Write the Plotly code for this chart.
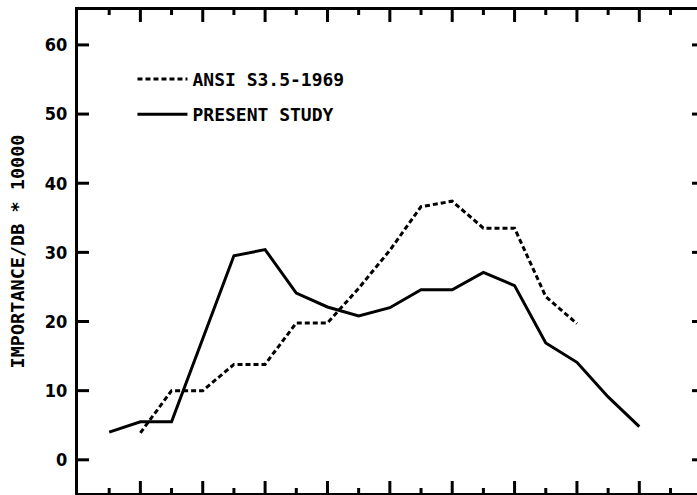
import plotly.graph_objects as go

# Band index (one-third-octave band positions along the x axis)
band_present = list(range(1, 19))
present_study = [4.0, 5.5, 5.5, 17.6, 29.5, 30.4, 24.1, 22.1, 20.8, 22.0,
                 24.6, 24.6, 27.1, 25.2, 16.9, 14.1, 9.1, 4.8]

band_ansi = list(range(2, 17))
ansi = [3.9, 10.0, 10.0, 13.8, 13.8, 19.8, 19.8, 24.8, 30.3, 36.6,
        37.4, 33.5, 33.5, 23.6, 19.7]

y_ticks = [0, 10, 20, 30, 40, 50, 60]
y_tick_text = ["0", "10", "20", "30", "40", "50", "60"]
x_major = [2, 4, 6, 8, 10, 12, 14, 16, 18]
x_minor = [1, 3, 5, 7, 9, 11, 13, 15, 17, 19]

INK = "#000000"
MONO = "DejaVu Sans Mono"

W, H = 697, 495
M_L, M_R, M_T, M_B = 78, 0, 10, 2
PW, PH = W - M_L - M_R, H - M_T - M_B

yr = [-4.8, 65.05]
xr = [0, 19.85]
px_x = (xr[1] - xr[0]) / PW   # data units per pixel (x)
px_y = (yr[1] - yr[0]) / PH   # data units per pixel (y)

fig = go.Figure()
fig.add_trace(go.Scatter(
    x=band_ansi, y=ansi, mode="lines", name="ANSI S3.5-1969",
    legendgroup="a",
    line=dict(color=INK, width=3, dash="5px,3px"),
))
fig.add_trace(go.Scatter(
    x=band_present, y=present_study, mode="lines", name="PRESENT STUDY",
    legendgroup="b",
    line=dict(color=INK, width=3),
))

# Frame tick marks as a decoration trace built from the tick lists
tx, ty = [], []
for yv in y_ticks:                       # left ticks, pointing inward
    tx += [xr[0], xr[0] + 11 * px_x, None]
    ty += [yv, yv, None]
    tx += [xr[1], xr[1] - 5 * px_x, None]  # right ticks
    ty += [yv, yv, None]
for xv in x_major:                       # top & bottom major ticks
    tx += [xv, xv, None, xv, xv, None]
    ty += [yr[1], yr[1] - 12 * px_y, None, yr[0], yr[0] + 12 * px_y, None]
for xv in x_minor:                       # top & bottom minor ticks
    tx += [xv, xv, None, xv, xv, None]
    ty += [yr[1], yr[1] - 5 * px_y, None, yr[0], yr[0] + 5 * px_y, None]

fig.add_trace(go.Scatter(
    x=tx, y=ty, mode="lines", showlegend=False, hoverinfo="skip",
    line=dict(color=INK, width=3), cliponaxis=False,
))

fig.update_layout(
    width=W, height=H,
    margin=dict(l=M_L, r=M_R, t=M_T, b=M_B),
    paper_bgcolor="white", plot_bgcolor="white",
    showlegend=True,
    legend=dict(
        x=0.088, y=0.895, xanchor="left", yanchor="top",
        bgcolor="rgba(0,0,0,0)", borderwidth=0,
        font=dict(family=MONO, size=18, color=INK, weight="bold"),
        itemwidth=50, tracegroupgap=9,
    ),
    xaxis=dict(
        range=xr, showgrid=False, zeroline=False,
        showline=True, linewidth=3, linecolor=INK, mirror=True,
        ticks="", showticklabels=False,
    ),
    yaxis=dict(
        range=yr, showgrid=False, zeroline=False,
        showline=True, linewidth=3, linecolor=INK, mirror=False,
        ticks="", tickvals=y_ticks, ticktext=y_tick_text,
        tickfont=dict(family="DejaVu Sans Condensed", size=18, color=INK,
                      weight="bold"),
        ticklabelstandoff=4,
        title=dict(text="IMPORTANCE/DB * 10000", standoff=16,
                   font=dict(family=MONO, size=18.5, color=INK, weight="bold")),
    ),
)

fig.write_html("out.html")
